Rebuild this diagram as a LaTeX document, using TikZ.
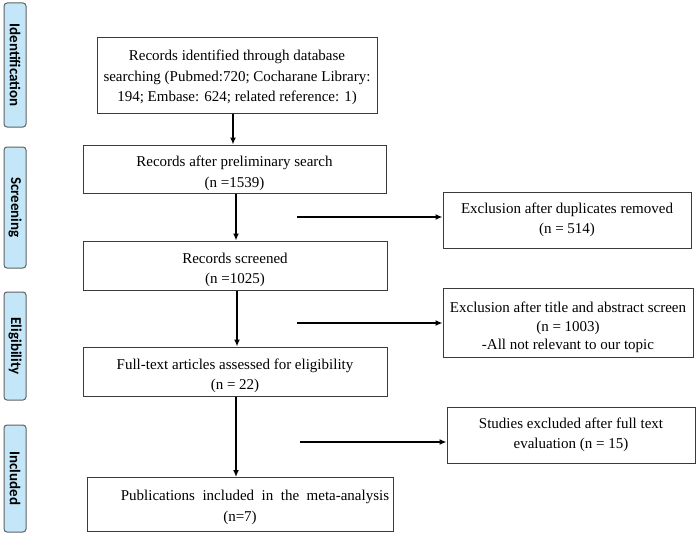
\documentclass[tikz,border=0pt]{standalone}
\usepackage{fontspec}
\setmainfont{Liberation Serif}
\newfontfamily\labelfont{Carlito}
\usetikzlibrary{arrows.meta}

\definecolor{phaseblue}{HTML}{C3E7F8}
\definecolor{boxgray}{HTML}{3A3A3A}

\newcommand{\lowstrut}[1]{\rule{0pt}{#1}}

\tikzset{
  flowbox/.style={draw=boxgray, line width=1pt, fill=white, align=center, inner sep=0pt,
    font=\fontsize{15}{20.5}\selectfont},
  phase/.style={draw=boxgray!80, line width=1pt, fill=phaseblue, rounded corners=3pt,
    minimum height=22pt, inner sep=0pt, rotate=-90,
    font=\labelfont\bfseries\fontsize{15}{18}\selectfont},
  flowarrow/.style={-{Latex[length=7pt,width=6pt]}, line width=2pt}
}

\begin{document}
\begin{tikzpicture}[x=1pt, y=-1pt]
        \useasboundingbox (0,0) rectangle (699,535);

          % phase labels on the left
          \node[phase, minimum width=124pt] (pid) at (15,65) {Identification};
          \node[phase, minimum width=121pt] (pscr) at (15,207.5) {Screening};
          \node[phase, minimum width=108pt] (pelig) at (15,346) {Eligibility};
          \node[phase, minimum width=107pt] (pincl) at (15,478.5) {Included};

          % main column
          \node[flowbox, minimum width=280pt, minimum height=75pt] (ident) at (237,75.5)
            {\lowstrut{14.2pt}Records identified through database\\searching (Pubmed:720; Cocharane Library:\\194; Embase: 624; related reference: 1)};
          \node[flowbox, minimum width=303pt, minimum height=48pt] (prelim) at (234.5,169)
            {\lowstrut{19.2pt}Records after preliminary search\\(n =1539)};
          \node[flowbox, minimum width=304pt, minimum height=49pt] (screened) at (235,265.5)
            {\lowstrut{19.2pt}Records screened\\(n =1025)};
          \node[flowbox, minimum width=304pt, minimum height=49pt] (fulltext) at (235,371.5)
            {\lowstrut{19.2pt}Full-text articles assessed for eligibility\\(n = 22)};
          \node[flowbox, minimum width=306pt, minimum height=54pt] (incl) at (240,504.5)
            {\lowstrut{16.2pt}\hspace*{30pt}Publications\ \ included\ \ in\ \ the\ \ meta-analysis\\(n=7)};

          % exclusions on the right
          \node[flowbox, minimum width=248pt, minimum height=56pt] (dup) at (567,220)
            {Exclusion after duplicates removed\\(n = 514)};
          \node[flowbox, minimum width=250pt, minimum height=69pt,
                font=\fontsize{15}{18.5}\selectfont] (title) at (568,322.5)
            {\lowstrut{20.2pt}Exclusion after title and abstract screen\\(n = 1003)\\-All not relevant to our topic};
          \node[flowbox, minimum width=248pt, minimum height=56pt] (studies) at (571,435)
            {Studies excluded after full text\\evaluation (n = 15)};

          \coordinate (sdup) at (297,217);
          \coordinate (stitle) at (297,323);
          \coordinate (sstudies) at (300,442);

          \draw[flowarrow] (ident.south -| 233,0) -- (prelim.north -| 233,0);
          \draw[flowarrow] (prelim.south -| 236,0) -- (screened.north -| 236,0);
          \draw[flowarrow] (screened.south -| 237,0) -- (fulltext.north -| 237,0);
          \draw[flowarrow] (fulltext.south -| 236,0) -- (incl.north -| 236,0);

          \draw[flowarrow] (sdup) -- (sdup -| dup.west);
          \draw[flowarrow] (stitle) -- (stitle -| title.west);
          \draw[flowarrow] (sstudies) -- (sstudies -| studies.west);
        \end{tikzpicture}
\end{document}
